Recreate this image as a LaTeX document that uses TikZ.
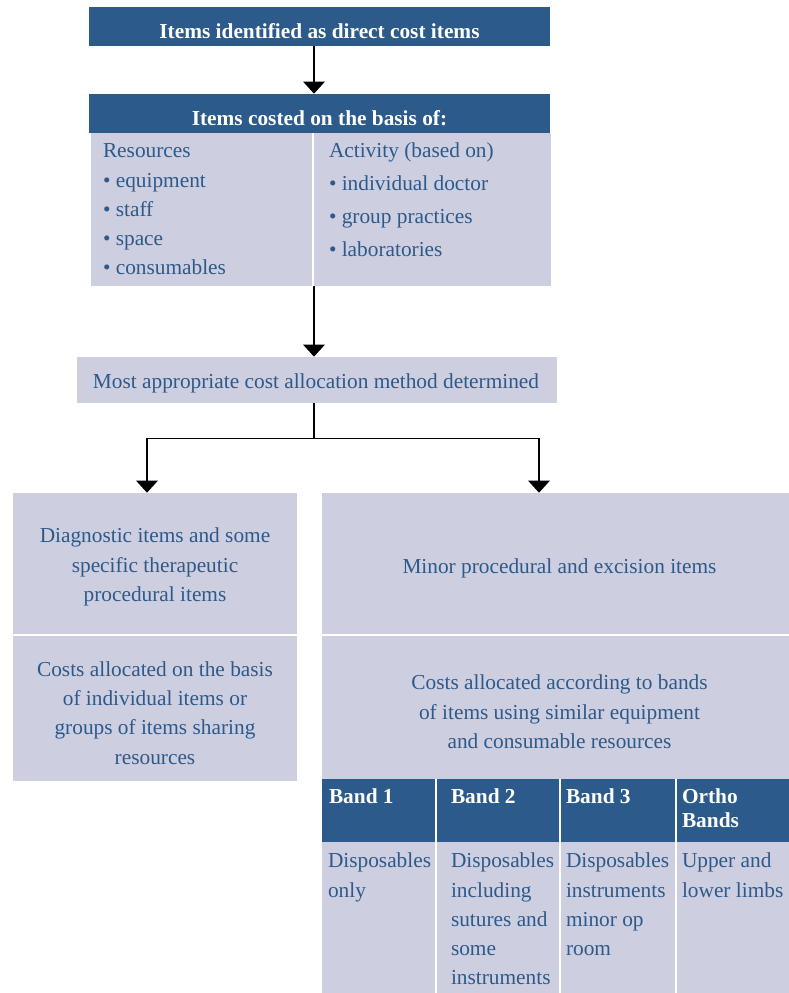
\documentclass[tikz,border=0pt]{standalone}
\usepackage{fontspec}
\setmainfont{Liberation Serif}
\usetikzlibrary{arrows.meta,fit}

\definecolor{hdblue}{HTML}{2C5A8A}
\definecolor{panegray}{HTML}{CDCEDF}
\definecolor{txtblue}{HTML}{2D5A8A}

\begin{document}
\begin{tikzpicture}[x=0.75pt,y=-0.75pt,
  hdr/.style={fill=hdblue,inner sep=0pt},
  pane/.style={fill=panegray,inner sep=0pt},
  hdrtxt/.style={text=white,inner sep=0pt,align=center,font=\bfseries\fontsize{16}{18}\selectfont},
  txt/.style={text=txtblue,inner sep=0pt,align=center,font=\fontsize{16}{22}\selectfont},
  listtxt/.style={txt,anchor=north west,align=left,font=\fontsize{16}{21.9}\selectfont},
  bandtxt/.style={hdrtxt,anchor=north west,align=left},
  sep/.style={draw=white,line width=1.2pt},
  link/.style={line width=1.1pt,-{Triangle[width=16pt,length=9pt]}}]
\useasboundingbox (0,0) rectangle (789,993);

% top of the chart
\node[hdr,fit={(89,7) (550,46)}] (direct) {};
\node[hdrtxt] at ([shift={(0,5)}]direct.center) {Items identified as direct cost items};
\node[hdr,fit={(89,94) (550,133)}] (basis) {};
\node[hdrtxt] at ([shift={(0,5)}]basis.center) {Items costed on the basis of:};
\node[pane,fit={(91,133) (313,286)}] (res) {};
\node[pane,fit={(313,133) (551,286)}] (act) {};
\draw[sep] (act.north west) -- (act.south west);
\node[listtxt] (reslist) at ([shift={(12,11)}]res.north west)
  {Resources\\\textbullet\ equipment\\\textbullet\ staff\\\textbullet\ space\\\textbullet\ consumables};
\node[listtxt,font=\fontsize{16}{24.75}\selectfont] (actlist) at ([shift={(16,10)}]act.north west)
  {Activity (based on)\\\textbullet\ individual doctor\\\textbullet\ group practices\\\textbullet\ laboratories};

\node[pane,fit={(77,357) (557,403)}] (method) {};
\node[txt] at ([shift={(-1,3)}]method.center) {Most appropriate cost allocation method determined};

% two branches
\node[pane,fit={(13,493) (297,635)}] (diag) {};
\node[txt] at ([shift={(0,3)}]diag.center) {Diagnostic items and some\\specific therapeutic\\procedural items};
\node[pane,fit={(13,635) (297,781)}] (diagcost) {};
\node[txt] at ([shift={(0,5)}]diagcost.center) {Costs allocated on the basis\\of individual items or\\groups of items sharing\\resources};
\draw[sep] (diagcost.north west) -- (diagcost.north east);

\node[pane,fit={(322,493) (789,635)}] (minor) {};
\node[txt] at ([shift={(4,4)}]minor.center) {Minor procedural and excision items};
\node[pane,fit={(322,635) (789,779)}] (bands) {};
\node[txt] at ([shift={(4,5)}]bands.center) {Costs allocated according to bands\\of items using similar equipment\\and consumable resources};
\draw[sep] (bands.north west) -- (bands.north east);

% band table
\node[hdr,fit={(322,779) (436,842)}] (band1) {};
\node[hdr,fit={(436,779) (560,842)}] (band2) {};
\node[hdr,fit={(560,779) (676,842)}] (band3) {};
\node[hdr,fit={(676,779) (789,842)}] (ortho) {};
\node[pane,fit={(322,842) (436,993)}] (band1b) {};
\node[pane,fit={(436,842) (560,993)}] (band2b) {};
\node[pane,fit={(560,842) (676,993)}] (band3b) {};
\node[pane,fit={(676,842) (789,993)}] (orthob) {};
\draw[sep] (band2.north west) -- (band2b.south west);
\draw[sep] (band3.north west) -- (band3b.south west);
\draw[sep] (ortho.north west) -- (orthob.south west);

\node[bandtxt] at ([shift={(7,10)}]band1.north west) {Band 1};
\node[bandtxt] at ([shift={(15,10)}]band2.north west) {Band 2};
\node[bandtxt] at ([shift={(6,10)}]band3.north west) {Band 3};
\node[bandtxt] at ([shift={(6,10)}]ortho.north west) {Ortho\\Bands};
\node[listtxt] at ([shift={(6,11)}]band1b.north west) {Disposables\\only};
\node[listtxt] at ([shift={(15,11)}]band2b.north west) {Disposables\\including\\sutures and\\some\\instruments};
\node[listtxt] at ([shift={(6,11)}]band3b.north west) {Disposables\\instruments\\minor op\\room};
\node[listtxt] at ([shift={(6,11)}]orthob.north west) {Upper and\\lower limbs};

% connectors
\coordinate (spine) at (314,0);
\coordinate (diagin) at (147,0);
\coordinate (minorin) at (539,0);
\draw[link] (direct.south -| spine) -- (basis.north -| spine);
\draw[link] (res.south -| spine) -- (method.north -| spine);
\draw[line width=1.1pt] (method.south -| spine) -- ++(0,35) coordinate (fork);
\draw[link] (fork) -| (diag.north -| diagin);
\draw[link] (fork) -| (minor.north -| minorin);

\end{tikzpicture}
\end{document}
